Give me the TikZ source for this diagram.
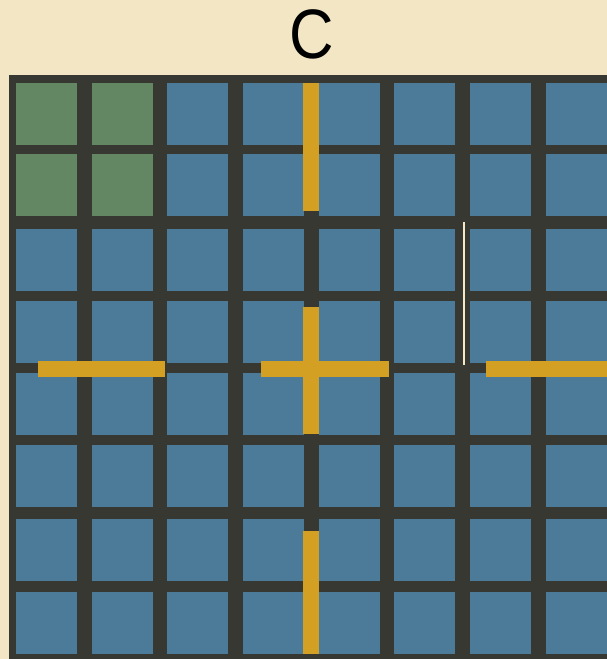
\documentclass[tikz,border=0pt]{standalone}
\usepackage{fontspec}
\setmainfont{Liberation Sans}
\definecolor{bgbeige}{HTML}{F3E6C5}
\definecolor{gapbeige}{HTML}{F5E8C4}
\definecolor{griddark}{HTML}{383832}
\definecolor{sqblue}{HTML}{4C7B9A}
\definecolor{sqgreen}{HTML}{638763}
\definecolor{barorange}{HTML}{D4A024}
\tikzset{
  sq/.style={rectangle, inner sep=0pt, minimum width=61pt, minimum height=61.5pt, draw=none},
  bar/.style={fill=barorange},
  titletext/.style={font=\fontsize{70}{70}\selectfont, inner sep=0pt, xscale=0.88}
}
\begin{document}
\begin{tikzpicture}[x=1pt,y=-1pt]
\useasboundingbox (0,0) rectangle (607,659);
\fill[bgbeige] (0,0) rectangle (607,659);
\node[titletext] (title) at (311.5,34.5) {C};
\fill[griddark] (8.5,75) rectangle (607,659);
\foreach \c/\x in {0/16,1/92,2/167,3/243,4/319,5/394,6/470,7/546}{
  \foreach \r/\y in {0/83,1/154,2/229,3/301,4/373,5/445,6/519,7/592}{
    \ifnum\r<2 \ifnum\c<2 \def\sqcol{sqgreen}\else\def\sqcol{sqblue}\fi\else\def\sqcol{sqblue}\fi
    \node[sq, fill=\sqcol] (s-\r-\c) at (\x+30.5,\y+30.75) {};
  }
}
% thin gap between cells
\fill[gapbeige] (462.8,222) rectangle (464.6,364.5);
% orange bars
\fill[bar] (303,83) rectangle (318.6,211);
\fill[bar] (303,307) rectangle (318.6,434);
\fill[bar] (261,361) rectangle (389,377);
\fill[bar] (37.5,361) rectangle (165,377);
\fill[bar] (485.5,361) rectangle (607,377);
\fill[bar] (303,531) rectangle (318.6,654);
\end{tikzpicture}
\end{document}
